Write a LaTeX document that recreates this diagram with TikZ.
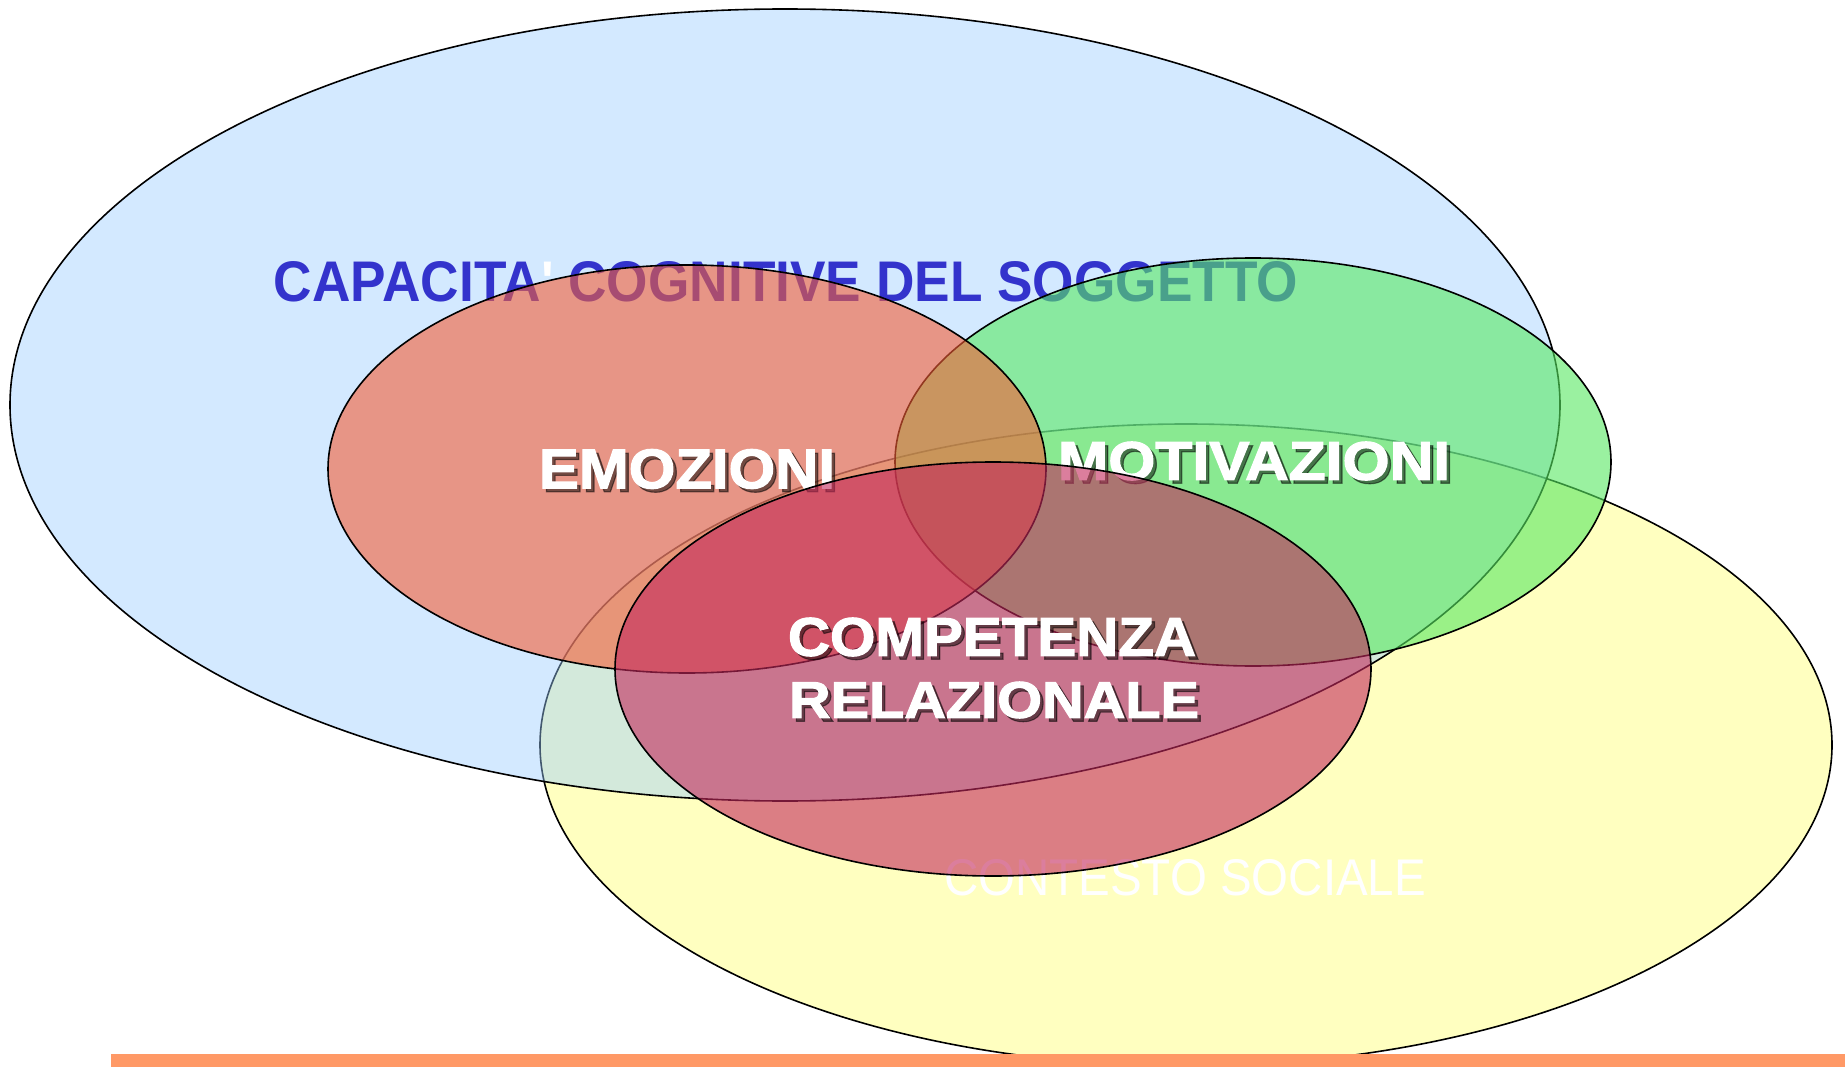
\documentclass[tikz,border=0pt]{standalone}
\usepackage{fontspec}
\usepackage{graphicx}
\newfontfamily\arialfam{Liberation Sans}
\newfontfamily\heavyfam{Liberation Sans}[BoldFeatures={FakeBold=2}]
\definecolor{cblue}{RGB}{153,204,255}
\definecolor{cyellow}{RGB}{255,255,192}
\definecolor{cred}{RGB}{245,94,54}
\definecolor{cgreen}{RGB}{88,233,97}
\definecolor{ccomp}{RGB}{195,40,92}
\definecolor{ctext}{RGB}{51,51,204}
\definecolor{cbar}{RGB}{255,153,102}
\tikzset{
  venn/.style={draw=black, line width=1.6pt},
  lbl/.style={inner sep=0pt, outer sep=0pt, text=white, font=\heavyfam\bfseries},
  shadowlbl/.style={inner sep=0pt, outer sep=0pt, text=black, text opacity=0.5, font=\heavyfam\bfseries},
}
\newcommand{\fitbox}[3]{\resizebox{#1pt}{#2pt}{#3}}
\begin{document}
\begin{tikzpicture}[x=1pt,y=-1pt]
\useasboundingbox (0,0) rectangle (1845,1067);
\fill[white] (0,0) rectangle (1845,1067);
% contesto sociale (bottom)
\path[venn, fill=cyellow] (1186,745) ellipse [x radius=646pt, y radius=321pt];
% capacita cognitive
\path[venn, fill=cblue, fill opacity=0.43] (785,405) ellipse [x radius=775pt, y radius=396pt];
\node[inner sep=0pt, text=ctext, font=\arialfam\bfseries] (capacita) at (786,282)
  {\fitbox{1024}{40}{CAPACITA{\color{white}'} COGNITIVE DEL SOGGETTO}};
\node[inner sep=0pt, text=white, font=\arialfam] (contesto) at (1185,878)
  {\fitbox{482}{36}{CONTESTO SOCIALE}};
% motivazioni
\path[venn, fill=cgreen, fill opacity=0.6] (1253,462) ellipse [x radius=358pt, y radius=204pt];
% emozioni
\path[venn, fill=cred, fill opacity=0.6] (687,469) ellipse [x radius=359pt, y radius=204pt];
\node[shadowlbl] (emoz-sh) at (690.5,472.5) {\fitbox{296}{39}{EMOZIONI}};
\node[lbl] (emoz) at (687,469) {\fitbox{296}{39}{EMOZIONI}};
\node[shadowlbl] (motiv-sh) at (1257.5,464.5) {\fitbox{392}{38}{MOTIVAZIONI}};
\node[lbl] (motiv) at (1254,461) {\fitbox{392}{38}{MOTIVAZIONI}};
% competenza relazionale
\path[venn, fill=ccomp, fill opacity=0.6] (993,669) ellipse [x radius=378pt, y radius=207pt];
\node[shadowlbl] (comp-sh) at (995.5,640.5) {\fitbox{408}{38}{COMPETENZA}};
\node[lbl] (comp) at (992,637) {\fitbox{408}{38}{COMPETENZA}};
\node[shadowlbl] (rel-sh) at (997.5,703.5) {\fitbox{410}{36}{RELAZIONALE}};
\node[lbl] (rel) at (994,700) {\fitbox{410}{36}{RELAZIONALE}};
% bottom bar
\fill[cbar] (111,1054) rectangle (1845,1067);
\end{tikzpicture}
\end{document}
